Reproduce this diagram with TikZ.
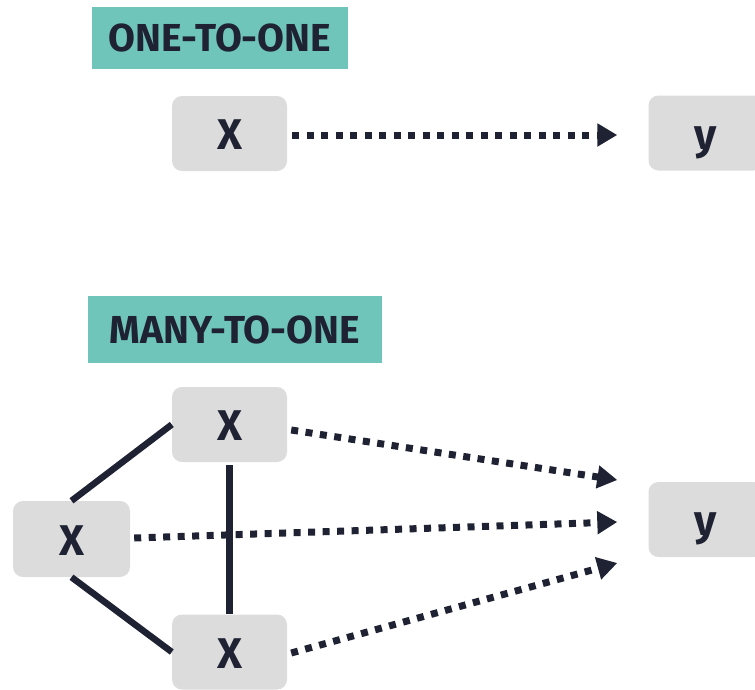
\documentclass[tikz,border=0pt]{standalone}
\usepackage{fontspec}
\setmainfont{Fira Sans}
\usetikzlibrary{arrows.meta,calc}
\definecolor{teal1}{HTML}{6FC5B9}
\definecolor{boxgray}{HTML}{DCDCDC}
\definecolor{ink}{HTML}{1F2233}
\tikzset{
  lbl/.style={fill=teal1, text=ink, font=\fontsize{39}{40}\selectfont\bfseries, inner sep=0pt, minimum height=62pt},
  vbox/.style={fill=boxgray, rounded corners=10pt, text=ink, font=\fontsize{43}{43}\selectfont\bfseries, minimum width=115pt, minimum height=75pt, inner sep=0pt, text height=32pt, text depth=0pt},
  link/.style={draw=ink, line width=6.5pt},
  dotarrow/.style={draw=ink, line width=7pt, dash pattern=on 7pt off 7.5pt, -{Triangle[length=20pt,width=22pt]}}
}
\begin{document}
\begin{tikzpicture}[x=1pt,y=-1pt]
\useasboundingbox (0,0) rectangle (755,689);
% labels
\node[lbl, minimum width=256pt] (l1) at (220,37.5) {ONE-TO-ONE};
\node[lbl, minimum width=294pt, minimum height=67pt] (l2) at (235,329.5) {MANY-TO-ONE};
% one-to-one
\node[vbox] (x1) at (229.5,133.5) {X};
\node[vbox] (y1) at (706,133) {y};
% many-to-one
\node[vbox] (xt) at (229.5,424.5) {X};
\node[vbox, minimum width=117pt, minimum height=76pt] (xl) at (71.5,539) {X};
\node[vbox] (xb) at (229.5,652) {X};
\node[vbox] (y2) at (706,519.5) {y};
% solid links
\draw[link] (xl.north) -- (xt.west);
\draw[link] (xl.south) -- (xb.west);
\draw[link] ($(xt.south)+(0,3)$) -- (xb.north);
% arrow tips
\coordinate (t0) at ($(y1.west)+(-31,2)$);
\coordinate (t1) at ($(y2.west)+(-31,-39.5)$);
\coordinate (t2) at ($(y2.west)+(-31,2.5)$);
\coordinate (t3) at ($(y2.west)+(-31,43.5)$);
% dotted arrows
\draw[dotarrow] ($(x1.east)+(5,1.5)$) -- (t0);
\draw[dotarrow] ($(xt.east)+(4,5.5)$) -- (t1);
\draw[dotarrow] ($(xl.east)+(4,-1)$) -- (t2);
\draw[dotarrow] ($(xb.east)+(4,1)$) -- (t3);
\end{tikzpicture}
\end{document}
